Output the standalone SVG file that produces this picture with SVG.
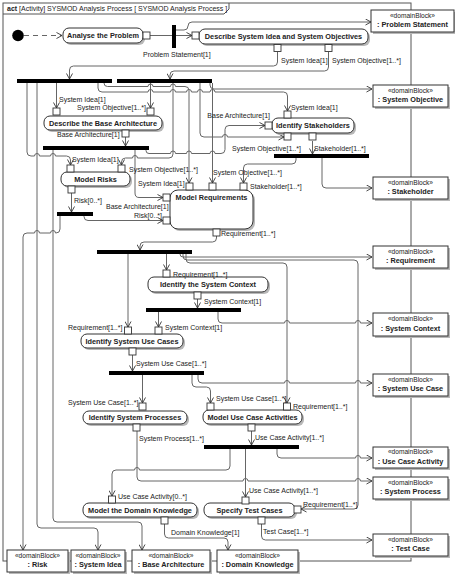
<svg xmlns="http://www.w3.org/2000/svg" width="455" height="576" viewBox="0 0 455 576">
<defs>
<marker id="ah" markerWidth="7" markerHeight="7" refX="6" refY="3.5" orient="auto" markerUnits="userSpaceOnUse"><path d="M0.5,0.5 L6,3.5 L0.5,6.5" fill="none" stroke="#333" stroke-width="0.9"/></marker>
</defs>
<style>
text{font-family:"Liberation Sans",Arial,sans-serif;fill:#222}
.l{font-size:7px}
.b{font-size:7.3px;font-weight:bold}
.s{font-size:6.6px}
.act{fill:#fff;stroke:#333;stroke-width:1}
.sh{fill:#b8b8b8}
.pin{fill:#fff;stroke:#333;stroke-width:0.9}
.bar{fill:#000}
.e{fill:none;stroke:#666;stroke-width:1}
.ea{fill:none;stroke:#666;stroke-width:1;marker-end:url(#ah)}
.blk{fill:#fff;stroke:#333;stroke-width:1}
</style>
<rect width="455" height="576" fill="#fff"/>
<g id="frame">
<rect x="3" y="3" width="408" height="558" fill="none" stroke="#555"/>
<path d="M3,14 H224 L229,9 V3" fill="none" stroke="#555"/>
<text class="l" x="7" y="11"><tspan font-weight="bold">act</tspan> [Activity] SYSMOD Analysis Process [ SYSMOD Analysis Process ]</text>
</g>
<g id="connectors">
<path class="ea" d="M24,35.5 H62" stroke-dasharray="5,4"/>
<path class="e" d="M150,35.5 H172"/>
<path class="ea" d="M176,35.5 H192"/>
<path class="ea" d="M176,30 H184 Q188,30 188,26 Q188,22 192,22 H371"/>
<path class="ea" d="M277.5,52 V62 Q277.5,66 273.5,66 H73.5 Q69.5,66 69.5,70 V79"/>
<path class="ea" d="M328.5,52 V67 Q328.5,71 324.5,71 H174 Q170,71 170,75 V79"/>
<path class="ea" d="M56.5,83 V108"/>
<path class="ea" d="M150.5,83 V108"/>
<path class="ea" d="M125.5,137 V146"/>
<path class="ea" d="M27,83 V152 Q27,156 31,156 H34.5 a2.5,2.5 0 0 1 5,0 H50.5 a2.5,2.5 0 0 1 5,0 H66.5 Q70.5,156 70.5,160 V165"/>
<path class="ea" d="M37,83 V524 Q37,528 41,528 H94 Q98,528 98,532 V550"/>
<path class="ea" d="M98,83 V88 Q98,92 102,92 H148 a2.5,2.5 0 0 1 5,0 H170.5 a2.5,2.5 0 0 1 5,0 H186.5 a2.5,2.5 0 0 1 5,0 H197.5 a2.5,2.5 0 0 1 5,0 H210 a2.5,2.5 0 0 1 5,0 H283.5 Q287.5,92 287.5,96 V111"/>
<path class="ea" d="M104,83 Q104,86.5 107.5,86.5 H148 a2.5,2.5 0 0 1 5,0 H170.5 a2.5,2.5 0 0 1 5,0 H185 Q189,86.5 189,90.5 V183"/>
<path class="ea" d="M210,83 V85 Q210,89 214,89 H372"/>
<path class="ea" d="M173,83 V154 Q173,158 169,158 H137.5 a2.5,2.5 0 0 0 -5,0 H125.5 Q121.5,158 121.5,162 V165"/>
<path class="ea" d="M200,83 V133 Q200,137 204,137 H222.5 a2.5,2.5 0 0 1 5,0 H284"/>
<path class="ea" d="M212.5,83 V183"/>
<path class="ea" d="M135,150 V193 Q135,197.5 139,197.5 H163"/>
<path class="ea" d="M146,150 V150.5 Q146,153.5 149,153.5 H170.5 a2.5,2.5 0 0 1 5,0 H186.5 a2.5,2.5 0 0 1 5,0 H210 a2.5,2.5 0 0 1 5,0 H221 Q225,153.5 225,149.5 V129.5 Q225,125.5 229,125.5 H265"/>
<path class="ea" d="M53,150 V518 Q53,522 57,522 H138 Q142,522 142,526 V550"/>
<path class="ea" d="M312.5,141 V154"/>
<path class="ea" d="M296,158 V160 Q296,164 292,164 H247.5 Q243.5,164 243.5,168 V183"/>
<path class="ea" d="M322,158 V184 Q322,188 326,188 H372"/>
<path class="ea" d="M71.5,193 V212"/>
<path class="ea" d="M84,216 V216.5 Q84,220.5 88,220.5 H163"/>
<path class="ea" d="M60,216 V229 Q60,233 56,233 H55.5 a2.5,2.5 0 0 0 -5,0 H39.5 a2.5,2.5 0 0 0 -5,0 H27 Q23,233 23,237 V550"/>
<path class="ea" d="M216.5,236 V238 Q216.5,242 212.5,242 H144 Q140,242 140,246 V250"/>
<path class="ea" d="M128,254 V327"/>
<path class="ea" d="M166.5,254 V270"/>
<path class="ea" d="M180,254 Q180,257 183,257 H372"/>
<path class="ea" d="M183,254 V256 Q183,260 187,260 H354 Q358,260 358,264 V505 Q358,509 354,509 H301"/>
<path class="ea" d="M186,254 V259 Q186,263 190,263 H283 Q287,263 287,267 V403"/>
<path class="ea" d="M197.5,299 V308"/>
<path class="ea" d="M158.5,312 V327"/>
<path class="ea" d="M218,312 V319 Q218,323 222,323 H284.5 a2.5,2.5 0 0 1 5,0 H355.5 a2.5,2.5 0 0 1 5,0 H372"/>
<path class="ea" d="M132.5,355 V371"/>
<path class="ea" d="M142.5,375 V403"/>
<path class="ea" d="M198,375 V379 Q198,383 202,383 H284.5 a2.5,2.5 0 0 1 5,0 H355.5 a2.5,2.5 0 0 1 5,0 H372"/>
<path class="ea" d="M192,375 V383 Q192,387 196,387 H206.5 Q210.5,387 210.5,391 V403"/>
<path class="ea" d="M137,431 V477 Q137,481 141,481 H243 a2.5,2.5 0 0 1 5,0 H355.5 a2.5,2.5 0 0 1 5,0 H372"/>
<path class="ea" d="M251.5,431 V445"/>
<path class="ea" d="M230,449 V466 Q230,470 226,470 H139.5 a2.5,2.5 0 0 0 -5,0 H116 Q112,470 112,474 V496"/>
<path class="ea" d="M245.5,449 V497"/>
<path class="ea" d="M277,449 V454 Q277,458 281,458 H355.5 a2.5,2.5 0 0 1 5,0 H372"/>
<path class="ea" d="M164.5,524 V534 Q164.5,538 168.5,538 H224 Q228,538 228,542 V550"/>
<path class="ea" d="M261.5,524 V536 Q261.5,540 265.5,540 H372"/>
</g>
<g id="initial"><circle cx="18" cy="35.5" r="5.8" fill="#000"/></g>
<g id="fork0"><rect class="bar" x="172" y="25" width="4" height="23"/></g>
<g id="bar1"><rect class="bar" x="17" y="79" width="95" height="4"/></g>
<g id="bar2"><rect class="bar" x="117" y="79" width="95" height="4"/></g>
<g id="bar3"><rect class="bar" x="43" y="146" width="106" height="4"/></g>
<g id="bar4"><rect class="bar" x="274" y="154" width="95" height="4"/></g>
<g id="bar5"><rect class="bar" x="57" y="212" width="36" height="4"/></g>
<g id="bar6"><rect class="bar" x="97" y="250" width="95" height="4"/></g>
<g id="bar7"><rect class="bar" x="146" y="308" width="95" height="4"/></g>
<g id="bar8"><rect class="bar" x="109" y="371" width="95" height="4"/></g>
<g id="bar9"><rect class="bar" x="204" y="445" width="95" height="4"/></g>

<g id="analyse">
<rect class="sh" x="65" y="30" width="80" height="15" rx="6"/>
<rect class="act" x="63" y="28" width="80" height="15" rx="6"/>
<text class="b" x="103" y="38" text-anchor="middle">Analyse the Problem</text>
<rect class="pin" x="143" y="32" width="7" height="7"/>
<text class="l" x="143" y="57">Problem Statement[1]</text>
</g>
<g id="describeIdea">
<rect class="sh" x="201" y="31" width="169" height="15" rx="6"/>
<rect class="act" x="199" y="29" width="169" height="15" rx="6"/>
<text class="b" x="283.5" y="39" text-anchor="middle">Describe System Idea and System Objectives</text>
<rect class="pin" x="192" y="32" width="7" height="7"/>
<rect class="pin" x="274" y="44.5" width="7" height="7"/>
<rect class="pin" x="325" y="44.5" width="7" height="7"/>
<text class="l" x="281" y="62.5">System Idea[1]</text>
<text class="l" x="332" y="62.5">System Objective[1..*]</text>
</g>
<g id="describeBase">
<rect class="sh" x="46" y="118" width="118" height="14" rx="6"/>
<rect class="act" x="44" y="116" width="118" height="14" rx="6"/>
<text class="b" x="103" y="125.5" text-anchor="middle">Describe the Base Architecture</text>
<rect class="pin" x="53" y="108" width="7" height="7"/>
<rect class="pin" x="147" y="108" width="7" height="7"/>
<rect class="pin" x="122" y="130" width="7" height="7"/>
<text class="l" x="59" y="101.5">System Idea[1]</text>
<text class="l" x="77" y="110">System Objective[1..*]</text>
<text class="l" x="57" y="137">Base Architecture[1]</text>
</g>
<g id="identifyStakeholders">
<rect class="sh" x="274" y="120" width="82" height="15" rx="6"/>
<rect class="act" x="272" y="118" width="82" height="15" rx="6"/>
<text class="b" x="313" y="128" text-anchor="middle">Identify Stakeholders</text>
<rect class="pin" x="284" y="111" width="7" height="7"/>
<rect class="pin" x="265" y="122" width="7" height="7"/>
<rect class="pin" x="284" y="133" width="7" height="7"/>
<rect class="pin" x="309" y="133" width="7" height="7"/>
<text class="l" x="291" y="109.5">System Idea[1]</text>
<text class="l" x="270" y="117.5" text-anchor="end">Base Architecture[1]</text>
<text class="l" x="232" y="150.5">System Objective[1..*]</text>
<text class="l" x="314" y="150.5">Stakeholder[1..*]</text>
</g>
<g id="modelRisks">
<rect class="sh" x="63" y="174" width="69" height="14" rx="6"/>
<rect class="act" x="61" y="172" width="69" height="14" rx="6"/>
<text class="b" x="95.5" y="181.5" text-anchor="middle">Model Risks</text>
<rect class="pin" x="67" y="165" width="7" height="7"/>
<rect class="pin" x="118" y="165" width="7" height="7"/>
<rect class="pin" x="68" y="186" width="7" height="7"/>
<text class="l" x="72" y="161.5">System Idea[1]</text>
<text class="l" x="129" y="171.5">System Objective[1..*]</text>
<text class="l" x="74" y="203">Risk[0..*]</text>
</g>
<g id="modelRequirements">
<rect class="sh" x="172" y="192" width="83" height="39" rx="8"/>
<rect class="act" x="170" y="190" width="83" height="39" rx="8"/>
<text class="b" x="211.5" y="199.5" text-anchor="middle">Model Requirements</text>
<rect class="pin" x="186" y="183" width="7" height="7"/>
<rect class="pin" x="209" y="183" width="7" height="7"/>
<rect class="pin" x="240" y="183" width="7" height="7"/>
<rect class="pin" x="163" y="194" width="7" height="7"/>
<rect class="pin" x="163" y="217" width="7" height="7"/>
<rect class="pin" x="213" y="229" width="7" height="7"/>
<text class="l" x="138" y="185.5">System Idea[1]</text>
<text class="l" x="213" y="175">System Objective[1..*]</text>
<text class="l" x="250" y="189">Stakeholder[1..*]</text>
<text class="l" x="106" y="208.5">Base Architecture[1]</text>
<text class="l" x="134" y="217.5">Risk[0..*]</text>
<text class="l" x="221" y="236">Requirement[1..*]</text>
</g>
<g id="identifyContext">
<rect class="sh" x="150" y="279" width="120" height="15" rx="6"/>
<rect class="act" x="148" y="277" width="120" height="15" rx="6"/>
<text class="b" x="208" y="287" text-anchor="middle">Identify the System Context</text>
<rect class="pin" x="163" y="270" width="7" height="7"/>
<rect class="pin" x="194" y="292" width="7" height="7"/>
<text class="l" x="173" y="276.5">Requirement[1..*]</text>
<text class="l" x="204" y="303.5">System Context[1]</text>
</g>
<g id="identifyUseCases">
<rect class="sh" x="83" y="336" width="102" height="14" rx="6"/>
<rect class="act" x="81" y="334" width="102" height="14" rx="6"/>
<text class="b" x="132" y="343.5" text-anchor="middle">Identify System Use Cases</text>
<rect class="pin" x="124.5" y="327" width="7" height="7"/>
<rect class="pin" x="155" y="327" width="7" height="7"/>
<rect class="pin" x="129" y="348" width="7" height="7"/>
<text class="l" x="68" y="329.5">Requirement[1..*]</text>
<text class="l" x="165" y="329.5">System Context[1]</text>
<text class="l" x="136" y="365.5">System Use Case[1..*]</text>
</g>
<g id="identifyProcesses">
<rect class="sh" x="85" y="413" width="104" height="13" rx="6"/>
<rect class="act" x="83" y="411" width="104" height="13" rx="6"/>
<text class="b" x="135" y="420" text-anchor="middle">Identify System Processes</text>
<rect class="pin" x="139" y="403" width="7" height="7"/>
<rect class="pin" x="133" y="424" width="7" height="7"/>
<text class="l" x="68" y="404.5">System Use Case[1..*]</text>
<text class="l" x="139" y="440.5">System Process[1..*]</text>
</g>
<g id="modelUseCaseActivities">
<rect class="sh" x="205" y="412" width="99" height="14" rx="6"/>
<rect class="act" x="203" y="410" width="99" height="14" rx="6"/>
<text class="b" x="252.5" y="419.5" text-anchor="middle">Model Use Case Activities</text>
<rect class="pin" x="207" y="403" width="7" height="7"/>
<rect class="pin" x="283.5" y="403" width="7" height="7"/>
<rect class="pin" x="248" y="424" width="7" height="7"/>
<text class="l" x="216" y="400.5">System Use Case[1..*]</text>
<text class="l" x="293" y="408.5">Requirement[1..*]</text>
<text class="l" x="255" y="439.5">Use Case Activity[1..*]</text>
</g>
<g id="modelDomain">
<rect class="sh" x="85" y="505" width="114" height="14" rx="6"/>
<rect class="act" x="83" y="503" width="114" height="14" rx="6"/>
<text class="b" x="140" y="512.5" text-anchor="middle">Model the Domain Knowledge</text>
<rect class="pin" x="108.5" y="496" width="7" height="7"/>
<rect class="pin" x="161" y="517" width="7" height="7"/>
<text class="l" x="118" y="498.5">Use Case Activity[0..*]</text>
<text class="l" x="171" y="534.5">Domain Knowledge[1]</text>
</g>
<g id="specifyTests">
<rect class="sh" x="206" y="505" width="91" height="14" rx="6"/>
<rect class="act" x="204" y="503" width="91" height="14" rx="6"/>
<text class="b" x="249.5" y="512.5" text-anchor="middle">Specify Test Cases</text>
<rect class="pin" x="242" y="497" width="7" height="7"/>
<rect class="pin" x="294" y="506" width="7" height="7"/>
<rect class="pin" x="258" y="517" width="7" height="7"/>
<text class="l" x="249" y="492.5">Use Case Activity[1..*]</text>
<text class="l" x="303" y="506.5">Requirement[1..*]</text>
<text class="l" x="263" y="533.5">Test Case[1..*]</text>
</g>

<g id="bProblemStatement"><rect class="sh" x="373" y="12" width="83" height="22"/><rect class="blk" x="371" y="10" width="83" height="22"/><text class="s" x="412.5" y="17.5" text-anchor="middle">«domainBlock»</text><text class="b" x="412.5" y="27" text-anchor="middle">: Problem Statement</text></g>
<g id="bSystemObjective"><rect class="sh" x="375" y="87" width="75" height="22"/><rect class="blk" x="373" y="85" width="75" height="22"/><text class="s" x="410.5" y="92.5" text-anchor="middle">«domainBlock»</text><text class="b" x="410.5" y="102" text-anchor="middle">: System Objective</text></g>
<g id="bStakeholder"><rect class="sh" x="375" y="179" width="75" height="22"/><rect class="blk" x="373" y="177" width="75" height="22"/><text class="s" x="410.5" y="184.5" text-anchor="middle">«domainBlock»</text><text class="b" x="410.5" y="194" text-anchor="middle">: Stakeholder</text></g>
<g id="bRequirement"><rect class="sh" x="375" y="248" width="75" height="22"/><rect class="blk" x="373" y="246" width="75" height="22"/><text class="s" x="410.5" y="253.5" text-anchor="middle">«domainBlock»</text><text class="b" x="410.5" y="263" text-anchor="middle">: Requirement</text></g>
<g id="bSystemContext"><rect class="sh" x="375" y="315" width="75" height="23"/><rect class="blk" x="373" y="313" width="75" height="23"/><text class="s" x="410.5" y="320.5" text-anchor="middle">«domainBlock»</text><text class="b" x="410.5" y="330.5" text-anchor="middle">: System Context</text></g>
<g id="bSystemUseCase"><rect class="sh" x="375" y="376" width="75" height="22"/><rect class="blk" x="373" y="374" width="75" height="22"/><text class="s" x="410.5" y="381.5" text-anchor="middle">«domainBlock»</text><text class="b" x="410.5" y="391" text-anchor="middle">: System Use Case</text></g>
<g id="bUseCaseActivity"><rect class="sh" x="375" y="449" width="75" height="21"/><rect class="blk" x="373" y="447" width="75" height="21"/><text class="s" x="410.5" y="454" text-anchor="middle">«domainBlock»</text><text class="b" x="410.5" y="463.5" text-anchor="middle">: Use Case Activity</text></g>
<g id="bSystemProcess"><rect class="sh" x="375" y="479" width="75" height="22"/><rect class="blk" x="373" y="477" width="75" height="22"/><text class="s" x="410.5" y="484.5" text-anchor="middle">«domainBlock»</text><text class="b" x="410.5" y="494" text-anchor="middle">: System Process</text></g>
<g id="bTestCase"><rect class="sh" x="375" y="536" width="75" height="22"/><rect class="blk" x="373" y="534" width="75" height="22"/><text class="s" x="410.5" y="541.5" text-anchor="middle">«domainBlock»</text><text class="b" x="410.5" y="551" text-anchor="middle">: Test Case</text></g>
<g id="bRisk"><rect class="sh" x="9" y="552" width="61" height="22"/><rect class="blk" x="7" y="550" width="61" height="22"/><text class="s" x="37.5" y="557.5" text-anchor="middle">«domainBlock»</text><text class="b" x="37.5" y="567" text-anchor="middle">: Risk</text></g>
<g id="bSystemIdea"><rect class="sh" x="73" y="552" width="54" height="22"/><rect class="blk" x="71" y="550" width="54" height="22"/><text class="s" x="98" y="557.5" text-anchor="middle">«domainBlock»</text><text class="b" x="98" y="567" text-anchor="middle">: System Idea</text></g>
<g id="bBaseArchitecture"><rect class="sh" x="134" y="552" width="78" height="22"/><rect class="blk" x="132" y="550" width="78" height="22"/><text class="s" x="171" y="557.5" text-anchor="middle">«domainBlock»</text><text class="b" x="171" y="567" text-anchor="middle">: Base Architecture</text></g>
<g id="bDomainKnowledge"><rect class="sh" x="219" y="552" width="81" height="22"/><rect class="blk" x="217" y="550" width="81" height="22"/><text class="s" x="257.5" y="557.5" text-anchor="middle">«domainBlock»</text><text class="b" x="257.5" y="567" text-anchor="middle">: Domain Knowledge</text></g>
</svg>
